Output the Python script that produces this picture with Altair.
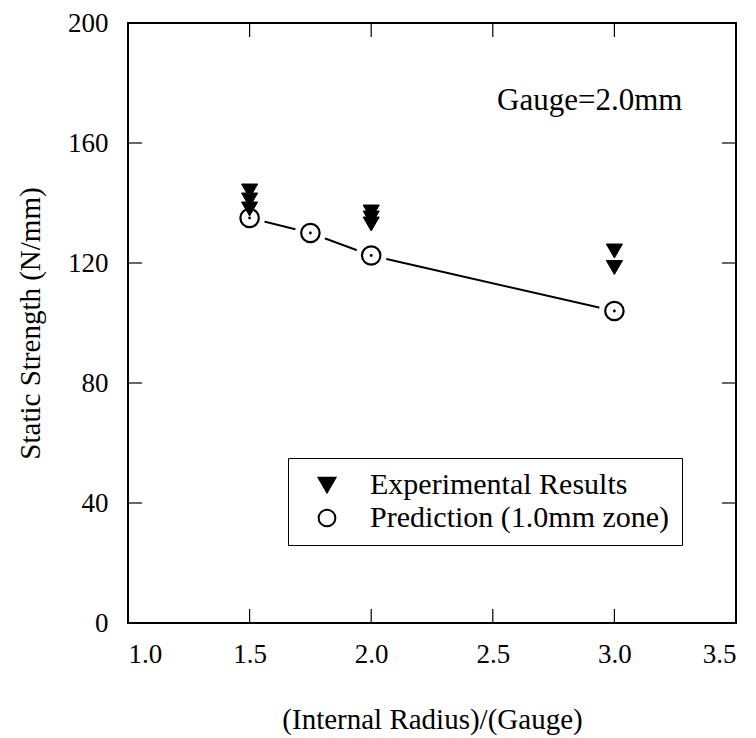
import altair as alt
import pandas as pd

# ---- data ----
exp_x = [1.5, 1.5, 1.5, 2.0, 2.0, 2.0, 3.0, 3.0]
exp_y = [144, 141, 138, 137, 135, 133, 124, 118.5]
pred_x = [1.5, 1.75, 2.0, 3.0]
pred_y = [135, 130, 122.5, 104]
x_ticks = [1.0, 1.5, 2.0, 2.5, 3.0, 3.5]
y_ticks = [0, 40, 80, 120, 160, 200]
series = ["Experimental Results", "Prediction (1.0mm zone)"]
note = "Gauge=2.0mm"

FONT = "Liberation Serif"
W, H = 608, 600

exp_df = pd.DataFrame({"x": exp_x, "y": exp_y, "series": series[0]})
pred_df = pd.DataFrame({"x": pred_x, "y": pred_y, "series": series[1]})
xt_df = pd.DataFrame({"t": x_ticks[1:-1]})
yt_df = pd.DataFrame({"t": y_ticks[1:-1]})

xs = alt.Scale(domain=[1.0, 3.5], nice=False)
ys = alt.Scale(domain=[0, 200], nice=False)
X = alt.X("x:Q", scale=xs, title="(Internal Radius)/(Gauge)",
          axis=alt.Axis(values=x_ticks, format=".1f", labelPadding=18, titlePadding=38,
                        ticks=False, domain=False, grid=False))
Y = alt.Y("y:Q", scale=ys, title="Static Strength (N/mm)",
          axis=alt.Axis(values=y_ticks, labelPadding=20, titlePadding=22,
                        ticks=False, domain=False, grid=False))

shape_s = alt.Scale(domain=series, range=["triangle-down", "circle"])
fill_s = alt.Scale(domain=series, range=["black", "white"])
stroke_s = alt.Scale(domain=series, range=["black", "black"])
leg = alt.Legend(title=None, orient="none", legendX=160, legendY=435,
                 padding=12, symbolOffset=12, labelOffset=28, rowPadding=3,
                 strokeColor="black", fillColor="white",
                 symbolStrokeWidth=2, symbolSize=280,
                 labelFont=FONT, labelFontSize=30, labelColor="black", labelLimit=0)

line = alt.Chart(pred_df).mark_line(color="black", strokeWidth=2).encode(x=X, y=Y)
halo = alt.Chart(pred_df).mark_point(shape="circle", filled=True, color="white",
                                     size=950, opacity=1).encode(x="x:Q", y="y:Q")
circles = alt.Chart(pred_df).mark_point(size=340, strokeWidth=2.2,
                                        opacity=1, fillOpacity=1).encode(
    x="x:Q", y="y:Q",
    shape=alt.Shape("series:N", scale=shape_s, legend=leg),
    fill=alt.Fill("series:N", scale=fill_s, legend=leg),
    stroke=alt.Stroke("series:N", scale=stroke_s, legend=leg))
dots = alt.Chart(pred_df).mark_point(shape="circle", filled=True, color="black",
                                     size=8, opacity=1).encode(x="x:Q", y="y:Q")
tris = alt.Chart(exp_df).mark_point(size=260, strokeWidth=1, opacity=1,
                                    fillOpacity=1).encode(
    x="x:Q", y="y:Q",
    shape=alt.Shape("series:N", scale=shape_s, legend=leg),
    fill=alt.Fill("series:N", scale=fill_s, legend=leg),
    stroke=alt.Stroke("series:N", scale=stroke_s, legend=leg))

TL = 14
xt_bot = alt.Chart(xt_df).mark_rule(color="black", strokeWidth=1.2).encode(
    x=alt.X("t:Q", scale=xs), y=alt.value(H), y2=alt.value(H - TL))
xt_top = alt.Chart(xt_df).mark_rule(color="black", strokeWidth=1.2).encode(
    x=alt.X("t:Q", scale=xs), y=alt.value(0), y2=alt.value(TL))
yt_left = alt.Chart(yt_df).mark_rule(color="black", strokeWidth=1.2).encode(
    y=alt.Y("t:Q", scale=ys), x=alt.value(0), x2=alt.value(TL))
yt_right = alt.Chart(yt_df).mark_rule(color="black", strokeWidth=1.2).encode(
    y=alt.Y("t:Q", scale=ys), x=alt.value(W - TL), x2=alt.value(W))

label = alt.Chart(pd.DataFrame({"t": [note]})).mark_text(
    font=FONT, fontSize=31, color="black", align="left", baseline="middle").encode(
    x=alt.value(369), y=alt.value(78), text="t:N")

chart = alt.layer(line, halo, circles, dots, tris, xt_bot, xt_top, yt_left, yt_right,
                  label).properties(
    width=W, height=H,
    background="white",
    autosize=alt.AutoSizeParams(type="none"),
    padding={"left": 120, "top": 15, "right": 12, "bottom": 113},
).configure_view(stroke="black", strokeWidth=2).configure_axis(
    labelFont=FONT, labelFontSize=27, labelColor="black",
    titleFont=FONT, titleFontSize=29, titleColor="black", titleFontWeight="normal",
)

chart.save("out.html", embed_options={"renderer": "svg", "actions": False})
